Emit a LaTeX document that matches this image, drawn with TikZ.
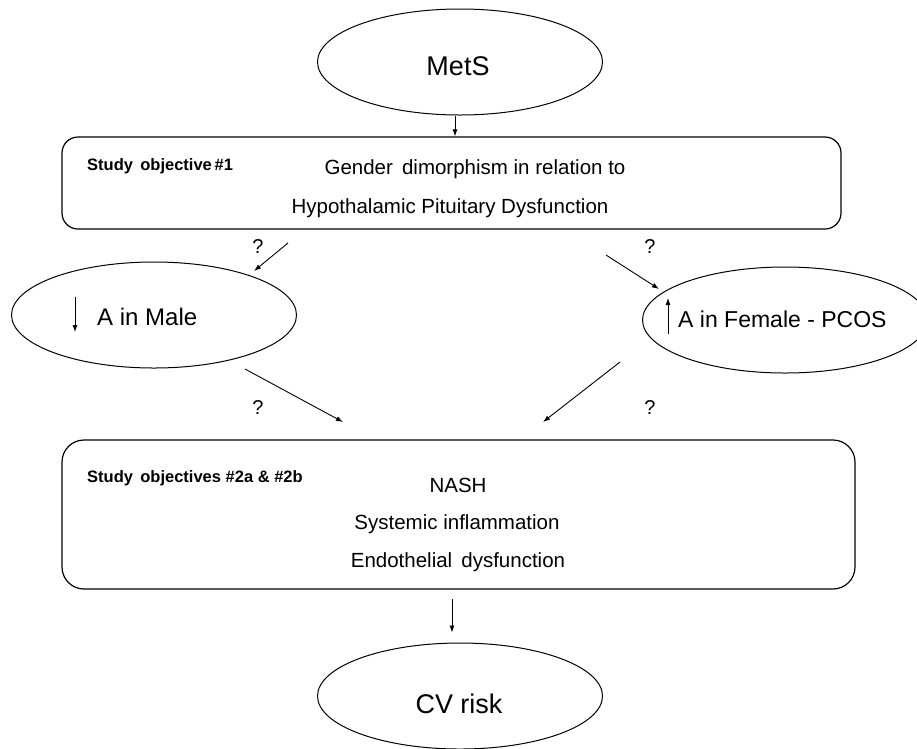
\documentclass[tikz,border=0pt]{standalone}
\usepackage{fontspec}
\setmainfont{Liberation Sans}
\usetikzlibrary{shapes.geometric,arrows.meta}
\begin{document}
\begin{tikzpicture}[x=1pt,y=-1pt,
 oval/.style={draw,ellipse,line width=1pt,minimum width=285pt,minimum height=106pt,inner sep=0pt},
 rbox/.style={draw,line width=1.2pt,inner sep=0pt},
 arr/.style={-{Latex[length=7pt,width=5pt]},line width=0.9pt},
 txt/.style={font=\fontsize{20.5}{24}\selectfont,inner sep=0pt,anchor=base},
 big/.style={font=\fontsize{27}{30}\selectfont,inner sep=0pt,anchor=base},
 mid/.style={font=\fontsize{24}{28}\selectfont,inner sep=0pt,anchor=base west},
 obj/.style={font=\bfseries\fontsize{16.5}{20}\selectfont,inner sep=0pt,anchor=base west},
 qm/.style={font=\fontsize{20}{24}\selectfont,inner sep=0pt}]
\fill[white] (0,0) rectangle (917,748);
\useasboundingbox (0,0) rectangle (917,748);
% shapes
\node[oval] (mets) at (460,62) {};
\node[rbox,rounded corners=16pt,minimum width=779pt,minimum height=92pt] (b1) at (451.5,183) {};
\node[oval] (male) at (154,315) {};
\node[oval] (female) at (785,320) {};
\node[rbox,rounded corners=22pt,minimum width=793pt,minimum height=149pt] (b2) at (458.5,514.5) {};
\node[oval] (cv) at (460,696) {};
% texts
\node[big] (tmets) at (458,75) {MetS};
\node[obj] (o1) at (87,170) {Study\, objective\,\#1};
\node[txt] (g1) at (475,174) {Gender\, dimorphism in relation to};
\node[txt] (g2) at (450,213) {Hypothalamic Pituitary Dysfunction};
\node[mid] (tmale) at (97,325) {A in Male};
\node[mid,font=\fontsize{23}{27}\selectfont] (tfem) at (678,327) {A in Female - PCOS};
\node[obj] (o2) at (87,482) {Study\, objectives \#2a \& \#2b};
\node[txt] (n1) at (458,492) {NASH};
\node[txt] (n2) at (457,529) {Systemic inflammation};
\node[txt] (n3) at (458,567) {Endothelial\, dysfunction};
\node[big] (tcv) at (459,713) {CV risk};
\node[qm] (q1) at (258,247) {?};
\node[qm] (q2) at (650,247) {?};
\node[qm] (q3) at (258,408) {?};
\node[qm] (q4) at (650,408) {?};
% connector end points
\coordinate (a1s) at (288,243); \coordinate (a1e) at (254,271);
\coordinate (a2s) at (606,255); \coordinate (a2e) at (659,289);
\coordinate (a3s) at (245,369); \coordinate (a3e) at (343,422);
\coordinate (a4s) at (620,362); \coordinate (a4e) at (543,422);
\coordinate (dn1) at (75,297); \coordinate (dn2) at (75,332);
\coordinate (up1) at (668,334); \coordinate (up2) at (668,298);
% connectors
\draw[arr] (mets.south -| 455,0) -- (b1.north -| 455,0);
\draw[arr] (a1s) -- (a1e);
\draw[arr] (a2s) -- (a2e);
\draw[arr] (a3s) -- (a3e);
\draw[arr] (a4s) -- (a4e);
\draw[arr,shorten >=10pt] (b2.south -| 452,0) ++(0,9) coordinate (c1) -- (c1 |- cv.north);
\draw[arr] (dn1) -- (dn2);
\draw[arr] (up1) -- (up2);
\end{tikzpicture}
\end{document}
